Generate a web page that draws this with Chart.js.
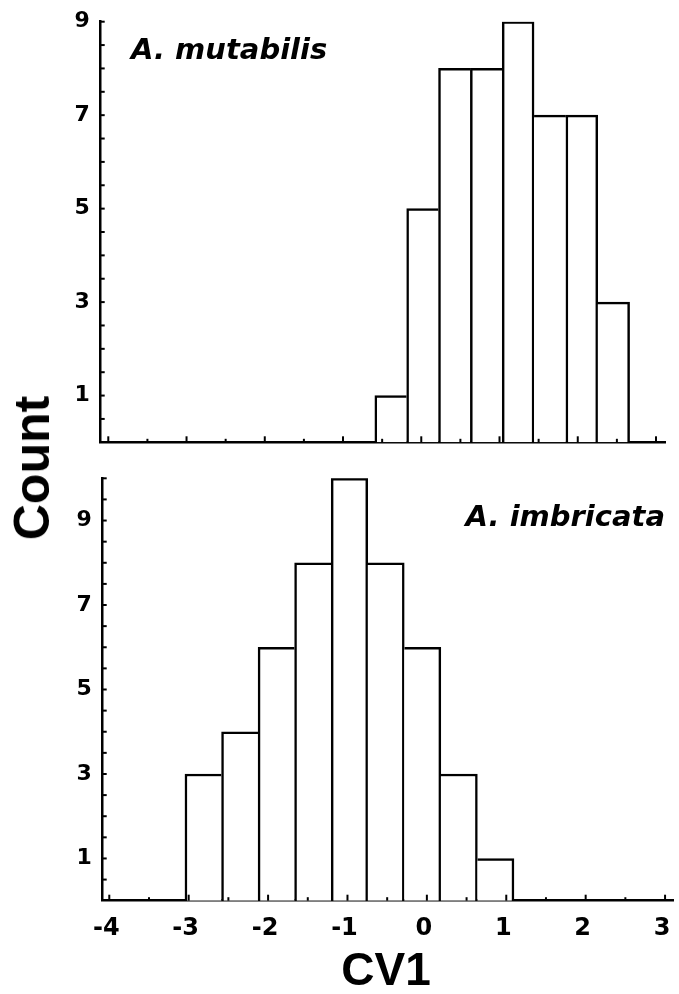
<!DOCTYPE html>
<html>
<head>
<meta charset="utf-8">
<script src="https://cdn.jsdelivr.net/npm/chart.js@4.4.0/dist/chart.umd.min.js"></script>
<style>
body{margin:0;background:#fff;width:679px;height:994px;position:relative;overflow:hidden}
canvas{position:absolute;left:0}
.lbl{position:absolute;font-family:'Liberation Sans',Arial,sans-serif;font-weight:bold;color:#000;white-space:nowrap;line-height:1}
.sp{font-family:'DejaVu Sans',sans-serif;font-style:italic;font-size:29px}
</style>
</head>
<body>
<canvas id="topChart" width="679" height="460" style="top:0"></canvas>
<canvas id="bottomChart" width="679" height="534" style="top:460px"></canvas>
<div class="lbl sp" style="left:131px;top:35px">A. mutabilis</div>
<div class="lbl sp" style="right:14px;top:502px">A. imbricata</div>
<div class="lbl" style="font-size:50px;left:32px;top:468px;transform:translate(-50%,-50%) rotate(-90deg)">Count</div>
<div class="lbl" style="font-size:46px;left:386px;top:969px;transform:translate(-50%,-50%)">CV1</div>
<script>
// bin centres (CV1) and counts
const mutabilisBins = [-0.390, 0.017, 0.424, 0.831, 1.238, 1.645, 2.052, 2.459];
const mutabilisCounts = [1, 5, 8, 8, 9, 7, 7, 3];
const imbricataBins = [-2.817, -2.356, -1.896, -1.436, -0.975, -0.515, -0.054, 0.406, 0.867];
const imbricataCounts = [3, 4, 6, 8, 10, 8, 6, 3, 1];
const yLabels = [1, 3, 5, 7, 9];
const xLabels = [-4, -3, -2, -1, 0, 1, 2, 3];

const FONT = "'DejaVu Sans', sans-serif";

// little ticks pointing into the plot
const inwardTicks = {
  id: 'inwardTicks',
  afterDraw(chart) {
    const ctx = chart.ctx, xs = chart.scales.x, ys = chart.scales.y, a = chart.chartArea;
    ctx.save();
    ctx.strokeStyle = '#000';
    ctx.lineWidth = 2;
    xs.ticks.forEach(t => {
      const px = xs.getPixelForValue(t.value);
      const len = Number.isInteger(t.value) ? 6 : 3.5;
      ctx.beginPath(); ctx.moveTo(px, a.bottom); ctx.lineTo(px, a.bottom - len); ctx.stroke();
    });
    ys.ticks.forEach(t => {
      if (t.value === 0) return;
      const py = ys.getPixelForValue(t.value);
      ctx.beginPath(); ctx.moveTo(a.left, py); ctx.lineTo(a.left + 4, py); ctx.stroke();
    });
    ctx.restore();
  }
};

function sideBorders(counts) {
  // draw each shared edge only once, from the taller bar
  return ctx => {
    const i = ctx.dataIndex, h = counts[i];
    const prev = i > 0 ? counts[i - 1] : -1;
    const next = i < counts.length - 1 ? counts[i + 1] : -1;
    return { top: 2.5, left: h >= prev ? 2.5 : 0, right: h > next ? 2.5 : 0, bottom: 0 };
  };
}

function makeChart(id, bins, counts, o) {
  const pts = bins.map((b, i) => ({ x: b, y: counts[i] }));
  return new Chart(document.getElementById(id), {
    type: 'bar',
    data: {
      datasets: [{
        data: pts,
        backgroundColor: '#fff',
        borderColor: '#000',
        borderWidth: sideBorders(counts),
        borderSkipped: false,
        barPercentage: 1,
        categoryPercentage: 1
      }]
    },
    options: {
      responsive: false,
      animation: false,
      layout: { padding: o.padding },
      plugins: { legend: { display: false }, tooltip: { enabled: false } },
      scales: {
        x: {
          type: 'linear',
          offset: false,
          min: o.xmin, max: o.xmax,
          grid: { display: false, drawTicks: false, offset: false },
          border: { display: true, color: '#000', width: 2.5 },
          ticks: {
            display: o.showX,
            stepSize: 0.5,
            includeBounds: false,
            autoSkip: false,
            maxRotation: 0,
            padding: 14,
            labelOffset: -3,
            color: '#000',
            font: { family: FONT, size: 24, weight: 'bold' },
            callback: v => xLabels.includes(v) ? String(v) : ''
          },
          afterFit: s => { s.height = o.xh; s.paddingLeft = 0; s.paddingRight = 0; }
        },
        y: {
          min: 0, max: o.ymax,
          grid: { display: false, drawTicks: false },
          border: { display: true, color: '#000', width: 2.5 },
          ticks: {
            stepSize: 0.5,
            autoSkip: false,
            padding: 11,
            color: '#000',
            font: { family: FONT, size: 22, weight: 'bold' },
            callback: v => yLabels.includes(v) ? String(v) : ''
          },
          afterFit: s => { s.width = o.yw; s.paddingTop = 0; s.paddingBottom = 0; }
        }
      }
    },
    plugins: [inwardTicks]
  });
}

makeChart('topChart', mutabilisBins, mutabilisCounts, {
  xmin: -4.097, xmax: 3.115, ymax: 9, showX: false,
  yw: 100.7, xh: 0,
  padding: { left: 0, top: 21.7, right: 14, bottom: 17.7 }
});

makeChart('bottomChart', imbricataBins, imbricataCounts, {
  xmin: -4.083, xmax: 3.10, ymax: 10, showX: true,
  yw: 102.7, xh: 40,
  padding: { left: 0, top: 18.3, right: 6, bottom: 53.3 }
});
</script>
</body>
</html>
